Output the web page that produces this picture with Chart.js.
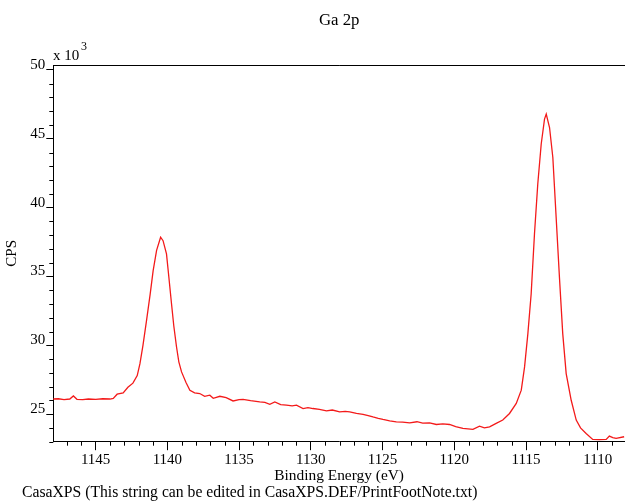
<!DOCTYPE html>
<html>
<head>
<meta charset="utf-8">
<script src="https://cdn.jsdelivr.net/npm/chart.js@4"></script>
<style>
    html, body { margin: 0; padding: 0; background: #ffffff; }
    #wrap { width: 625px; height: 501px; }
</style>
</head>
<body>
<div id="wrap"><canvas id="chart"></canvas></div>
<script>
// ===============================
// Ga 2p spectrum
// energy in eV, intensity in CPS x 10^3
// ===============================

const energies = [
    1148.0, 1147.6, 1147.2, 1146.8, 1146.55, 1146.3, 1145.9, 1145.5, 1145.0, 1144.5,
    1144.0, 1143.77, 1143.5, 1143.08, 1142.75, 1142.4, 1142.1, 1141.91, 1141.7, 1141.45,
    1141.2, 1140.99, 1140.75, 1140.47, 1140.3, 1140.06, 1139.9, 1139.71, 1139.55, 1139.36,
    1139.2, 1139.01, 1138.7, 1138.43, 1138.1, 1137.74, 1137.4, 1137.04, 1136.8, 1136.34,
    1135.9, 1135.42, 1135.0, 1134.72, 1134.2, 1133.56, 1133.2, 1132.86, 1132.51, 1132.1,
    1131.7, 1131.3, 1131.0, 1130.54, 1130.2, 1129.85, 1129.4, 1128.91, 1128.5, 1127.99,
    1127.6, 1127.29, 1126.82, 1126.36, 1126.0, 1125.67, 1125.3, 1124.97, 1124.5, 1124.04,
    1123.6, 1123.11, 1122.6, 1122.2, 1121.72, 1121.25, 1120.8, 1120.33, 1119.9, 1119.4,
    1118.7, 1118.24, 1117.9, 1117.54, 1117.08, 1116.62, 1116.15, 1115.68, 1115.33, 1115.1,
    1114.87, 1114.64, 1114.41, 1114.18, 1113.94, 1113.71, 1113.59, 1113.36, 1113.13, 1112.9,
    1112.67, 1112.44, 1112.2, 1111.85, 1111.5, 1111.2, 1110.81, 1110.35, 1109.9, 1109.41,
    1109.19, 1108.95, 1108.72, 1108.16
];

const cps = [
    26.10, 26.12, 26.05, 26.10, 26.32, 26.08, 26.05, 26.10, 26.08, 26.12,
    26.10, 26.14, 26.45, 26.55, 26.95, 27.25, 27.80, 28.67, 30.00, 31.81,
    33.70, 35.43, 36.90, 37.85, 37.60, 36.64, 35.00, 33.02, 31.40, 29.88,
    28.80, 28.07, 27.30, 26.74, 26.55, 26.50, 26.30, 26.38, 26.15, 26.30,
    26.20, 25.96, 26.05, 26.07, 25.98, 25.89, 25.85, 25.72, 25.89, 25.70,
    25.65, 25.60, 25.65, 25.41, 25.48, 25.41, 25.35, 25.24, 25.30, 25.17,
    25.20, 25.17, 25.05, 24.98, 24.90, 24.80, 24.70, 24.62, 24.52, 24.44,
    24.42, 24.37, 24.45, 24.35, 24.37, 24.25, 24.30, 24.25, 24.10, 23.96,
    23.89, 24.13, 24.00, 24.08, 24.33, 24.57, 25.05, 25.78, 26.74, 28.43,
    30.85, 33.75, 38.09, 41.72, 44.62, 46.43, 46.79, 45.82, 43.64, 39.30,
    34.95, 30.85, 27.95, 26.01, 24.57, 24.00, 23.60, 23.17, 23.15, 23.17,
    23.41, 23.30, 23.24, 23.36
];

// axis ranges and labelled ticks
const xMin = 1108.1, xMax = 1147.95;
const yMin = 23.0, yMax = 50.36;
const xMajor = [1145, 1140, 1135, 1130, 1125, 1120, 1115, 1110];
const yMajor = [25, 30, 35, 40, 45, 50];

const FONT = "'Liberation Serif', 'Times New Roman', serif";

// every whole unit gets a tick, only the majors get a label
function unitTicks(min, max) {
    const out = [];
    for (let v = Math.ceil(min); v <= Math.floor(max); v++) out.push({ value: v });
    return out;
}

// frame top, short minor ticks and the loose texts
const casaDecor = {
    id: "casaDecor",
    afterDraw(chart) {
        const { ctx, chartArea: a, scales } = chart;
        ctx.save();
        ctx.strokeStyle = "#000";
        ctx.lineWidth = 1;

        ctx.beginPath();
        ctx.moveTo(a.left, a.top + 0.5);
        ctx.lineTo(a.right, a.top + 0.5);
        ctx.stroke();

        ctx.beginPath();
        scales.x.ticks.forEach(t => {
            if (xMajor.includes(t.value)) return;
            const px = Math.round(scales.x.getPixelForValue(t.value)) + 0.5;
            ctx.moveTo(px, a.bottom);
            ctx.lineTo(px, a.bottom + 4);
        });
        scales.y.ticks.forEach(t => {
            if (yMajor.includes(t.value)) return;
            const py = Math.round(scales.y.getPixelForValue(t.value)) + 0.5;
            ctx.moveTo(a.left, py);
            ctx.lineTo(a.left - 4, py);
        });
        ctx.stroke();

        ctx.fillStyle = "#000";
        ctx.textAlign = "center";
        ctx.font = "16.8px " + FONT;
        ctx.fillText("Ga 2p", (a.left + a.right) / 2, 25);

        ctx.textAlign = "left";
        ctx.font = "15px " + FONT;
        ctx.fillText("x 10", 53, 60);
        ctx.font = "12px " + FONT;
        ctx.fillText("3", 81, 50);

        ctx.font = "15.7px " + FONT;
        ctx.fillText("CasaXPS (This string can be edited in CasaXPS.DEF/PrintFootNote.txt)", 22, 497);
        ctx.restore();
    }
};

new Chart(document.getElementById("chart"), {
    type: "line",
    data: {
        datasets: [{
            data: energies.map((e, i) => ({ x: e, y: cps[i] })),
            borderColor: "#f31a1a",
            borderWidth: 1.3,
            pointRadius: 0,
            tension: 0,
            fill: false
        }]
    },
    options: {
        responsive: true,
        maintainAspectRatio: false,
        animation: false,
        layout: { padding: { top: 65, left: 0, right: 0, bottom: 0 } },
        plugins: {
            legend: { display: false },
            tooltip: { enabled: false }
        },
        scales: {
            x: {
                type: "linear",
                reverse: true,
                min: xMin,
                max: xMax,
                afterBuildTicks: axis => { axis.ticks = unitTicks(xMin, xMax); },
                afterFit: axis => { axis.height = 59.3; },
                border: { display: true, color: "#000", width: 1 },
                grid: {
                    drawOnChartArea: false,
                    tickLength: 8.5,
                    tickColor: c => xMajor.includes(c.tick && c.tick.value) ? "#000" : "rgba(0,0,0,0)"
                },
                ticks: {
                    autoSkip: false,
                    maxRotation: 0,
                    padding: 1,
                    color: "#000",
                    font: { family: FONT, size: 15 },
                    callback: v => xMajor.includes(v) ? String(v) : ""
                },
                title: {
                    display: true,
                    text: "Binding Energy (eV)",
                    color: "#000",
                    font: { family: FONT, size: 15.4 },
                    padding: { top: 0, bottom: 16 }
                }
            },
            y: {
                min: yMin,
                max: yMax,
                afterBuildTicks: axis => { axis.ticks = unitTicks(yMin, yMax); },
                afterFit: axis => { axis.width = 53.3; },
                border: { display: true, color: "#000", width: 1 },
                grid: {
                    drawOnChartArea: false,
                    tickLength: 7,
                    tickColor: c => yMajor.includes(c.tick && c.tick.value) ? "#000" : "rgba(0,0,0,0)"
                },
                ticks: {
                    autoSkip: false,
                    padding: 1,
                    labelOffset: -5,
                    color: "#000",
                    font: { family: FONT, size: 15 },
                    callback: v => yMajor.includes(v) ? String(v) : ""
                },
                title: {
                    display: true,
                    text: "CPS",
                    color: "#000",
                    font: { family: FONT, size: 15 },
                    padding: { top: 3, bottom: 0 }
                }
            }
        }
    },
    plugins: [casaDecor]
});
</script>
</body>
</html>
